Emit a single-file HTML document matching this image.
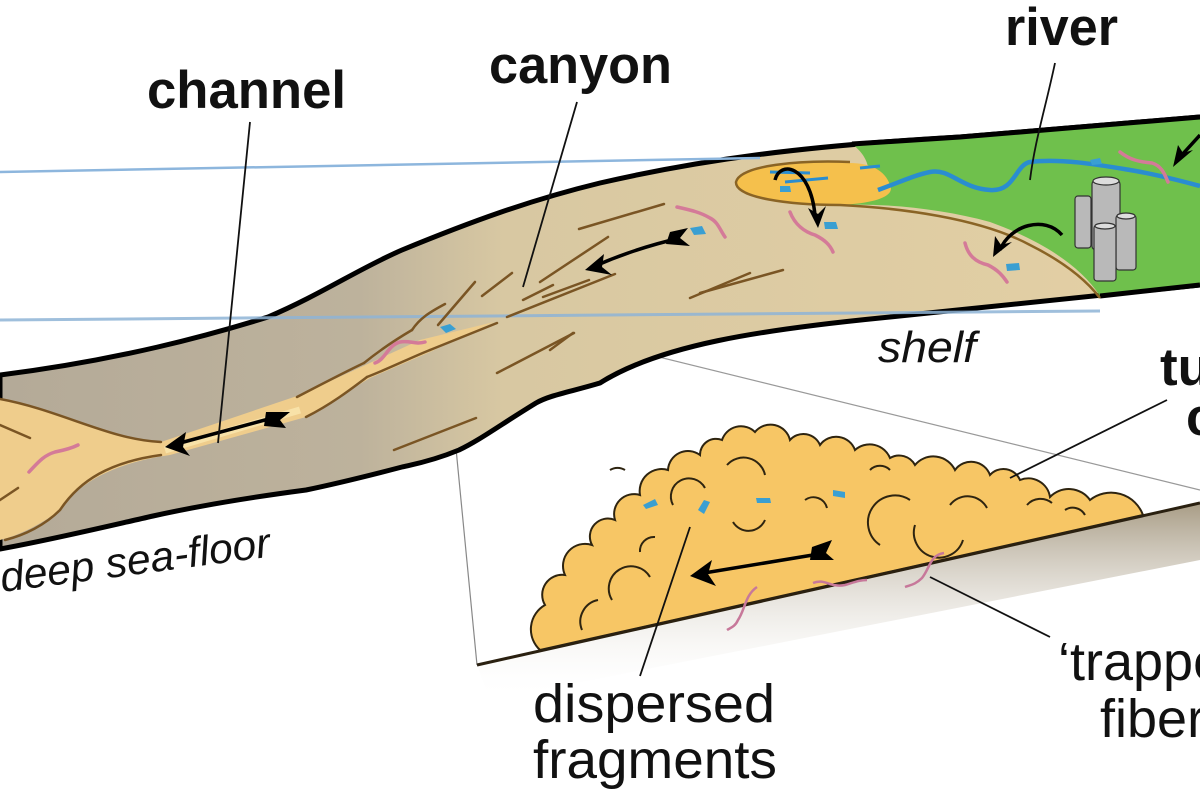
<!DOCTYPE html>
<html><head><meta charset="utf-8"><style>html,body{margin:0;padding:0;background:#fff}svg{display:block}</style></head>
<body>
<svg width="1200" height="800" viewBox="0 0 1200 800" xmlns="http://www.w3.org/2000/svg">
<defs>
<linearGradient id="band" x1="0" y1="0" x2="1" y2="0">
<stop offset="0" stop-color="#b4aa98"/><stop offset="0.3" stop-color="#bdb29c"/><stop offset="0.42" stop-color="#d8c8a2"/><stop offset="1" stop-color="#e4d0a4"/>
</linearGradient>
<linearGradient id="shadow" x1="0" y1="0" x2="0" y2="1">
<stop offset="0" stop-color="#a89c85"/><stop offset="1" stop-color="#ffffff" stop-opacity="0"/>
</linearGradient>
</defs>

<polygon points="477,665 1200,503 1200,560 490,700" fill="url(#shadow)"/>
<line x1="445" y1="335" x2="477" y2="665" stroke="#888" stroke-width="1.2"/>
<line x1="500" y1="318" x2="1200" y2="490" stroke="#999" stroke-width="1.2"/>

<path d="M0,375 C120,360 210,335 268,317 C320,295 360,268 402,250 C470,222 530,200 600,183 C700,160 800,146 960,137 L1200,117 L1200,285 L880,318 C760,330 660,345 600,383 C570,392 550,395 536,403 C500,425 480,440 459,450 C430,462 410,465 402,467 C360,478 330,485 306,490 C230,500 180,510 153,516 C100,528 50,540 0,549 Z" fill="url(#band)" stroke="#000" stroke-width="5" stroke-linejoin="round"/>

<path d="M852,144 L960,137 L1200,117 L1200,285 L1100,296 C1080,265 1040,240 990,222 C940,208 880,203 840,205 C870,195 880,165 852,144 Z" fill="#6fc04c"/>
<path d="M1200,117 L960,137 L852,144" fill="none" stroke="#000" stroke-width="5"/>
<path d="M1100,296 L1200,285" stroke="#000" stroke-width="5"/>
<path d="M850,163 C800,160 740,165 736,182 C735,198 790,205 840,205 C880,203 895,195 890,185 C885,170 870,163 850,163 Z" fill="#f5c04c"/>
<path d="M850,162 C800,160 740,165 736,182 C735,198 790,205 840,205 C900,208 980,218 1030,245 C1070,265 1090,285 1100,298" fill="none" stroke="#8a6425" stroke-width="2.5"/>
<path d="M878,190 C900,182 915,175 930,172 C950,168 960,188 990,190 C1015,192 1015,165 1030,162 C1060,158 1100,165 1130,170 C1160,175 1185,182 1200,186" fill="none" stroke="#2a8dd0" stroke-width="4.5"/>
<path d="M770,172 L810,173 M785,182 L828,178 M860,168 L880,166" stroke="#2a8dd0" stroke-width="3" fill="none"/>
<g stroke="#333" stroke-width="1.2" fill="#b9b9b9">
<rect x="1075" y="196" width="16" height="52" rx="3"/>
<rect x="1092" y="180" width="28" height="70" rx="4"/>
<rect x="1116" y="215" width="20" height="55" rx="3"/>
<rect x="1094" y="225" width="22" height="56" rx="3"/>
<ellipse cx="1106" cy="181" rx="13" ry="4" fill="#ddd"/>
<ellipse cx="1105" cy="226" rx="10" ry="3" fill="#ddd"/>
<ellipse cx="1126" cy="216" rx="9" ry="3" fill="#ddd"/>
</g>

<line x1="0" y1="172" x2="760" y2="158" stroke="#8db6dd" stroke-width="2.5"/>
<line x1="0" y1="320" x2="1100" y2="311" stroke="#8fb4d6" stroke-width="3" opacity="0.85"/>

<path d="M0,399 C60,410 110,440 161,442 L300,395 L420,340 L494,322 L430,352 L370,378 L306,417 L170,455 C120,462 80,480 60,510 C40,525 20,535 0,540 Z" fill="#efcd8c"/>
<path d="M165,450 L300,410" stroke="#f8e2a8" stroke-width="7"/>
<g stroke="#7a5524" stroke-width="2.5" fill="none" stroke-linecap="round">
<path d="M0,399 C60,410 110,440 161,442"/>
<path d="M161,455 C110,462 80,480 60,510 C45,525 25,535 5,540"/>
<path d="M0,425 L30,438"/><path d="M0,500 L18,488"/>
<path d="M297,397 C320,385 345,372 364,363"/>
<path d="M306,417 C330,405 350,390 367,377"/>
<path d="M364,363 C380,350 395,340 412,330"/>
<path d="M367,377 C390,368 410,358 430,350"/>
<path d="M430,350 L497,323"/>
<path d="M412,330 C420,318 430,312 445,304"/>
<path d="M438,325 L475,282"/><path d="M482,296 L512,273"/>
<path d="M507,317 L615,274"/><path d="M523,300 L553,285"/>
<path d="M540,282 L608,237"/><path d="M543,297 L589,280"/>
<path d="M579,229 L664,204"/><path d="M690,298 L750,273"/>
<path d="M700,293 L783,270"/><path d="M497,373 L574,333"/>
<path d="M394,450 L476,418"/><path d="M550,350 L573,333"/>
</g>

<g stroke="#d47a98" stroke-width="3.5" fill="none" stroke-linecap="round">
<path d="M29,472 C40,460 45,455 55,452 C65,450 72,448 78,445"/>
<path d="M375,363 C385,360 388,345 400,342 C410,340 415,345 425,342"/>
<path d="M677,207 C690,210 700,212 710,218 C718,222 720,230 725,237"/>
<path d="M790,212 C795,225 805,232 815,235 C825,240 830,245 833,252"/>
<path d="M965,243 C968,255 975,262 988,265 C998,270 1003,276 1007,282"/>
<path d="M1120,152 C1130,160 1140,162 1152,163 C1162,166 1165,175 1168,182"/>
</g>
<g fill="#3a9fd2">
<path d="M690,228 l12,-2 l4,8 l-12,1z"/><path d="M440,327 l10,-3 l6,5 l-10,4z"/>
<path d="M824,222 l12,0 l2,7 l-13,0z"/><path d="M1006,264 l13,-1 l1,7 l-13,1z"/>
<path d="M780,186 l10,0 l1,6 l-11,0z"/><path d="M1090,160 l10,-2 l2,6 l-10,1z"/>
</g>

<g stroke="#000" stroke-width="3.5" fill="none">
<path d="M276,417 L180,443"/>
<path d="M680,238 C650,245 620,255 595,266"/>
<path d="M775,180 C780,160 810,165 815,215"/>
<path d="M1062,235 C1045,215 1010,225 1000,250"/>
<path d="M1200,135 L1180,157"/>
</g>
<g fill="#000">
<path d="M165,447 L186,432 L183,447 L190,456 Z"/>
<path d="M266,412 L290,412 L280,420 L286,428 L264,426 Z"/>
<path d="M585,270 L604,254 L602,267 L612,275 Z"/>
<path d="M670,232 L688,228 L680,238 L690,246 L666,244 Z"/>
<path d="M818,228 L808,208 L818,214 L826,206 Z"/>
<path d="M993,257 L995,236 L1001,245 L1012,242 Z"/>
<path d="M1173,167 L1178,145 L1183,153 L1193,150 Z"/>
</g>

<path d="M540,650 A28,28 0 0 1 545,605 A20,20 0 0 1 565,575 A22,22 0 0 1 592,545 A18,18 0 0 1 615,520 A20,20 0 0 1 640,495 A22,22 0 0 1 668,470 A20,20 0 0 1 700,455 A16,16 0 0 1 722,440 A20,20 0 0 1 755,432 A20,20 0 0 1 790,440 A18,18 0 0 1 820,445 A20,20 0 0 1 855,450 A22,22 0 0 1 890,458 A18,18 0 0 1 915,465 A24,24 0 0 1 955,470 A20,20 0 0 1 990,475 A18,18 0 0 1 1020,480 A22,22 0 0 1 1050,497 A26,26 0 0 1 1090,500 A34,34 0 0 1 1143,515 Z" fill="#f7c665" stroke="#2e2410" stroke-width="2"/>
<line x1="477" y1="665" x2="1200" y2="503" stroke="#2a2010" stroke-width="3"/>
<g stroke="#2e2410" stroke-width="2" fill="none">
<path d="M650,577 A22,22 0 0 0 612,600"/><path d="M655,537 A14,14 0 0 0 640,552"/>
<path d="M705,488 A18,18 0 0 0 673,505"/><path d="M765,475 A22,22 0 0 0 727,465"/>
<path d="M733,522 A18,18 0 0 0 765,520"/><path d="M805,500 A14,14 0 0 1 827,508"/>
<path d="M910,500 A26,26 0 0 0 880,545"/><path d="M915,525 A22,22 0 0 0 963,540"/>
<path d="M950,505 A22,22 0 0 1 987,508"/><path d="M1027,505 A18,18 0 0 1 1052,503"/>
<path d="M1065,510 A14,14 0 0 1 1085,515"/><path d="M582,630 A22,22 0 0 1 598,600"/>
<path d="M610,470 A14,14 0 0 1 625,470"/><path d="M870,470 A14,14 0 0 1 890,470"/>
</g>
<g fill="#3a9fd2">
<path d="M643,505 l12,-6 l3,6 l-12,4z"/><path d="M698,510 l6,-10 l6,2 l-6,12z"/>
<path d="M756,498 l14,0 l1,5 l-14,0z"/><path d="M833,490 l12,2 l0,6 l-12,-2z"/>
</g>
<g stroke="#c7789a" stroke-width="2.5" fill="none">
<path d="M757,587 C745,595 745,610 738,620 C735,627 730,628 727,630"/>
<path d="M813,583 C825,578 830,588 845,585 C855,582 860,580 867,580"/>
<path d="M944,553 C930,555 930,568 922,578 C915,585 910,585 905,587"/>
</g>
<path d="M825,553 L698,574" stroke="#000" stroke-width="3.5"/>
<path d="M690,576 L712,560 L708,574 L716,586 Z" fill="#000"/>
<path d="M812,547 L832,540 L826,553 L834,560 L810,560 Z" fill="#000"/>

<g stroke="#111" stroke-width="1.8" fill="none">
<path d="M250,122 L218,443"/>
<path d="M577,102 L523,287"/>
<path d="M1055,63 C1045,110 1035,140 1030,180"/>
<path d="M640,676 L690,527"/>
<path d="M930,577 L1050,637"/>
<path d="M1010,478 L1167,400"/>
</g>

<g font-family="'Liberation Sans', Arial, sans-serif" fill="#111">
<text x="147" y="108" font-size="53" font-weight="bold" textLength="199" lengthAdjust="spacingAndGlyphs">channel</text>
<text x="489" y="83" font-size="53" font-weight="bold" textLength="183" lengthAdjust="spacingAndGlyphs">canyon</text>
<text x="1005" y="45" font-size="53" font-weight="bold" textLength="113" lengthAdjust="spacingAndGlyphs">river</text>
<text x="1160" y="385" font-size="53" font-weight="bold">tu</text>
<text x="1186" y="435" font-size="53" font-weight="bold">c</text>
<text x="878" y="362" font-size="44" font-style="italic" textLength="98" lengthAdjust="spacingAndGlyphs">shelf</text>
<text x="2" y="592" font-size="42" font-style="italic" transform="rotate(-7.5 2 592)" textLength="272" lengthAdjust="spacingAndGlyphs">deep sea-floor</text>
<text x="533" y="722" font-size="54" textLength="242" lengthAdjust="spacingAndGlyphs">dispersed</text>
<text x="533" y="778" font-size="54" textLength="244" lengthAdjust="spacingAndGlyphs">fragments</text>
<text x="1058" y="680" font-size="54">‘trapped’</text>
<text x="1100" y="737" font-size="54">fibers</text>
</g>
</svg>
</body></html>
